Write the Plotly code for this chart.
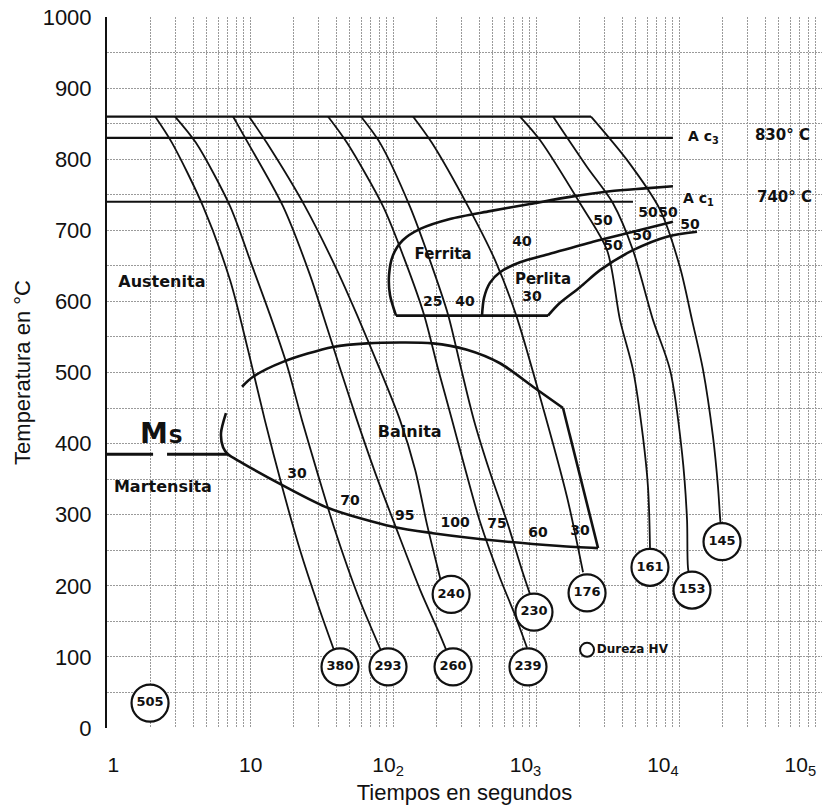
import plotly.graph_objects as go

# ---------------- reference temperatures (°C) ----------------
T_AUST = 860   # austenitizing temperature (top line)
AC3 = 830
AC1 = 740
MS = 385

# horizontal lines: time span (s)
top_line_t = [1, 2426]
ac3_t = [1, 9077]
ac1_t = [1, 4766]
ms_left_t = [1, 2.10]
ms_right_t = [2.63, 7.02]

# ---------------- cooling curves: time (s), temperature (°C) ----------------
c1_t = [2.17, 2.85, 4.69, 7.25, 9.68, 12.7, 17.0, 22.4, 29.9, 42.6]
c1_T = [860, 823, 734, 630, 532, 433, 335, 250, 173, 86]
c2_t = [2.99, 4.19, 7.25, 10.3, 13.8, 18.1, 23.1, 29.9, 39.3, 56.9, 92.3]
c2_T = [860, 823, 734, 651, 581, 511, 433, 356, 278, 186, 86]
c3_t = [7.61, 9.68, 17.0, 26.3, 32.4, 42.6, 56.0, 76.0, 103, 155, 213, 263]
c3_T = [860, 823, 734, 637, 581, 506, 433, 356, 286, 194, 131, 86]
c4_t = [9.84, 13.1, 24.2, 40.6, 56.0, 81.1, 112, 143, 173, 203, 224]
c4_T = [860, 823, 734, 644, 581, 504, 433, 363, 286, 229, 194]
c5_t = [35.1, 47.7, 85.1, 121, 165, 206, 259, 324, 406, 560, 713, 865]
c5_T = [860, 823, 734, 658, 581, 506, 433, 360, 290, 211, 159, 113]
c6_t = [59.7, 81.1, 131, 181, 243, 299, 368, 476, 637, 798, 938]
c6_T = [860, 823, 734, 658, 581, 506, 433, 360, 286, 222, 180]
c7_t = [138, 187, 334, 517, 725, 1066, 1648, 2133]
c7_T = [860, 823, 734, 658, 581, 466, 325, 219]
c8_t = [773, 1066, 2032, 3140, 3866, 4766, 5600, 6069, 6266, 6266]
c8_T = [860, 827, 738, 672, 574, 504, 409, 339, 255, 226]
c9_t = [1315, 2275, 3453, 4766, 6577, 8650, 10500, 11380, 11560, 12330]
c9_T = [860, 789, 738, 672, 574, 504, 387, 293, 225, 194]
c10_t = [2426, 4325, 7362, 10160, 12330, 14720, 17300, 18740, 19360, 19990]
c10_T = [860, 799, 729, 648, 574, 504, 409, 339, 297, 262]

cooling_t = [c1_t, c2_t, c3_t, c4_t, c5_t, c6_t, c7_t, c8_t, c9_t, c10_t]
cooling_T = [c1_T, c2_T, c3_T, c4_T, c5_T, c6_T, c7_T, c8_T, c9_T, c10_T]

# hardness (HV) circles at the end of each curve, plus the water quench
hv_text = ["380", "293", "260", "240", "239", "230", "176", "161", "153", "145", "505"]
hv_t = [42.6, 92.3, 263, 255, 879, 968, 2275, 6266, 12330, 19990, 2.0]
hv_T = [86, 86, 86, 188, 86, 163, 190, 226, 194, 262, 35]

# ---------------- transformation regions ----------------
bainite_top_t = [8.79, 10.5, 17.0, 38.0, 65.8, 190, 329, 560, 953, 1545]
bainite_top_T = [480, 494, 515, 536, 541, 541, 532, 513, 480, 450]
bainite_edge_t = [1545, 2716]
bainite_edge_T = [450, 253]
bainite_low_t = [6.79, 6.27, 6.48, 7.02, 8.79, 16.7, 35.7, 100, 190, 560, 1472, 2716]
bainite_low_T = [443, 415, 395, 385, 373, 342, 309, 283, 274, 263, 256, 253]

ferrite_start_t = [9077, 5780, 3290, 1730, 908, 476, 250, 155, 117, 100, 93.8, 95.3, 105]
ferrite_start_T = [762, 759, 755, 747, 737, 727, 716, 702, 686, 665, 637, 609, 580]
ferrite_floor_t = [105, 1213]
ferrite_floor_T = [580, 580]
pearlite_start_t = [419, 433, 476, 560, 773, 1253, 2505, 4766, 9077]
pearlite_start_T = [580, 605, 626, 641, 655, 667, 684, 698, 712]
pearlite_end_t = [1213, 1472, 2032, 2805, 4766, 8240, 13360]
pearlite_end_T = [580, 598, 620, 644, 672, 691, 698]

# ---------------- text labels ----------------
region_text = ["Austenita", "Martensita", "Bainita", "Ferrita", "Perlita"]
region_t = [2.42, 2.46, 131, 224, 1119]
region_T = [626, 338, 415, 665, 630]
region_size = [16, 16, 16, 15, 15]

pct_text = ["30", "70", "95", "100", "75", "60", "30",
            "25", "40", "40", "30",
            "50", "50", "50", "50", "50", "50"]
pct_t = [21.3, 50.0, 121, 272, 534, 1033, 2032,
         190, 319, 798, 938,
         2944, 6070, 8380, 3453, 5510, 11940]
pct_T = [356, 318, 297, 288, 286, 274, 276,
         599, 598, 683, 605,
         712, 724, 724, 677, 691, 707]

x_tick_vals = [1, 10, 100, 1000, 1e4, 1e5]
x_tick_text = ["1", "10", "10<sub>2</sub>", "10<sub>3</sub>", "10<sub>4</sub>", "10<sub>5</sub>"]

LABEL_FONT = "DejaVu Sans"
AXIS_FONT = "Liberation Sans, Arial"
INK = "#111111"

fig = go.Figure()


def add_line(t, T, width=2.0, shape="spline"):
    fig.add_trace(go.Scatter(
        x=t, y=T, mode="lines",
        line=dict(color=INK, width=width, shape=shape, smoothing=0.8),
        hoverinfo="skip"))


# horizontal lines
add_line(top_line_t, [T_AUST] * 2, 2.2, "linear")
add_line(ac3_t, [AC3] * 2, 2.2, "linear")
add_line(ac1_t, [AC1] * 2, 2.0, "linear")
add_line(ms_left_t, [MS] * 2, 2.8, "linear")
add_line(ms_right_t, [MS] * 2, 2.8, "linear")

# region boundaries
add_line(bainite_top_t, bainite_top_T, 2.6)
add_line(bainite_edge_t, bainite_edge_T, 2.6, "linear")
add_line(bainite_low_t, bainite_low_T, 2.6)
add_line(ferrite_start_t, ferrite_start_T, 2.6)
add_line(ferrite_floor_t, ferrite_floor_T, 2.6, "linear")
add_line(pearlite_start_t, pearlite_start_T, 2.6)
add_line(pearlite_end_t, pearlite_end_T, 2.6)

# cooling curves
for t, T in zip(cooling_t, cooling_T):
    add_line(t, T, 1.8)

# hardness circles
fig.add_trace(go.Scatter(
    x=hv_t, y=hv_T, mode="markers+text", text=hv_text,
    textposition="middle center",
    textfont=dict(family=LABEL_FONT, size=13, color=INK, weight="bold"),
    marker=dict(size=37, color="white", line=dict(color=INK, width=2.2)),
    hoverinfo="skip"))

# legend marker
fig.add_trace(go.Scatter(
    x=[2275], y=[110], mode="markers+text", text=["Dureza HV"],
    textposition="middle right",
    textfont=dict(family=LABEL_FONT, size=12, color=INK, weight="bold"),
    marker=dict(size=14, color="white", line=dict(color=INK, width=2)),
    hoverinfo="skip"))

# region names and percentages
fig.add_trace(go.Scatter(
    x=region_t, y=region_T, mode="text", text=region_text,
    textfont=dict(family=LABEL_FONT, size=region_size, color=INK, weight="bold"),
    hoverinfo="skip"))
fig.add_trace(go.Scatter(
    x=pct_t, y=pct_T, mode="text", text=pct_text,
    textfont=dict(family=LABEL_FONT, size=14, color=INK, weight="bold"),
    hoverinfo="skip"))

# Ms, Ac labels
fig.add_trace(go.Scatter(
    x=[2.13], y=[410], mode="text", text=["M"],
    textfont=dict(family=LABEL_FONT, size=28, color=INK, weight="bold"),
    hoverinfo="skip"))
fig.add_trace(go.Scatter(
    x=[3.02], y=[408], mode="text", text=["S"],
    textfont=dict(family=LABEL_FONT, size=20, color=INK, weight="bold"),
    hoverinfo="skip"))
fig.add_trace(go.Scatter(
    x=[11560, 10660], y=[AC3, AC1 + 3], mode="text",
    text=["A c<sub>3</sub>", "A c<sub>1</sub>"], textposition="middle right",
    textfont=dict(family=LABEL_FONT, size=14, color=INK, weight="bold"),
    hoverinfo="skip"))
fig.add_trace(go.Scatter(
    x=[33970, 35100], y=[AC3 + 2, AC1 + 5], mode="text",
    text=[f"{AC3}° C", f"{AC1}° C"], textposition="middle right",
    textfont=dict(family=LABEL_FONT, size=15, color=INK, weight="bold"),
    hoverinfo="skip"))

# invisible anchor so the tick-label axis is drawn
fig.add_trace(go.Scatter(
    x=x_tick_vals, y=[0] * len(x_tick_vals), xaxis="x2", yaxis="y",
    mode="markers", marker=dict(opacity=0), hoverinfo="skip"))

grid = dict(gridcolor="#9a9a9a", gridwidth=1, griddash="2px,1px")

fig.update_layout(
    width=825, height=808,
    margin=dict(l=107, r=3, t=17, b=80),
    paper_bgcolor="white", plot_bgcolor="white",
    showlegend=False,
    xaxis=dict(
        type="log", range=[0, 5], dtick=1, showticklabels=False, ticks="",
        showgrid=True, **grid, zeroline=False, showline=False,
        minor=dict(dtick="D1", showgrid=True, ticks="", **grid),
        title=dict(text="Tiempos en segundos",
                   font=dict(family=AXIS_FONT, size=22, color=INK), standoff=56),
    ),
    xaxis2=dict(
        type="log", overlaying="x", side="bottom", anchor="y",
        range=[-0.046, 5.158], tickvals=x_tick_vals, ticktext=x_tick_text,
        showgrid=False, zeroline=False, showline=False, ticks="",
        ticklabelstandoff=22,
        tickfont=dict(family=AXIS_FONT, size=21, color=INK),
    ),
    yaxis=dict(
        range=[0, 1000], dtick=100, showgrid=True, **grid, zeroline=False,
        minor=dict(dtick=50, showgrid=True, ticks="", **grid),
        showline=True, linecolor=INK, linewidth=2, ticks="",
        ticklabelstandoff=9,
        tickfont=dict(family=AXIS_FONT, size=22, color=INK),
        title=dict(text="Temperatura en °C",
                   font=dict(family=AXIS_FONT, size=22, color=INK), standoff=6),
    ),
)

fig.write_html("out.html")
